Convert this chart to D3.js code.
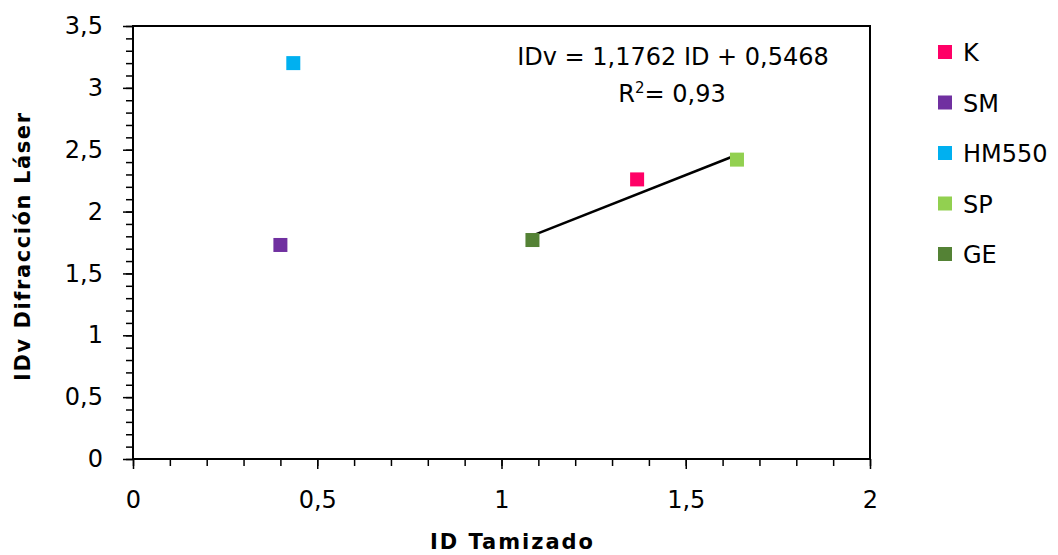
<!DOCTYPE html>
<html>
<head>
<meta charset="utf-8">
<script src="https://cdn.jsdelivr.net/npm/d3@7"></script>
<style>
  body { margin: 0; background: #fff; }
  svg text { font-family: "Comic Sans MS", "DejaVu Sans", sans-serif; fill: #000; }
</style>
</head>
<body>
<div id="chart"></div>
<script>
// series names, colours and values
var series = ["K", "SM", "HM550", "SP", "GE"];
var colors = ["#ff0066", "#7030a0", "#00b0f0", "#92d050", "#548235"];
var idTamizado = [1.368, 0.40, 0.435, 1.639, 1.084];
var idvLaser = [2.26, 1.73, 3.20, 2.42, 1.77];

// trend line (fitted on K, SP, GE)
var slope = 1.1762, intercept = 0.5468;
var trendX = [1.075, 1.643];

var xTicks = [0, 0.5, 1, 1.5, 2];
var yTicks = [0, 0.5, 1, 1.5, 2, 2.5, 3, 3.5];

var width = 1058, height = 555;
var fmt = function (d) { return String(d).replace(".", ","); };

var svg = d3.select("#chart").append("svg")
    .attr("width", width)
    .attr("height", height);

var x = d3.scaleLinear().domain([0, 2]).range([133, 870]);
var y = d3.scaleLinear().domain([0, 3.5]).range([459, 26]);

// minor ticks
svg.append("g")
    .attr("transform", "translate(0," + y(0) + ")")
    .call(d3.axisBottom(x).tickValues(d3.range(0, 21).map(function (i) { return i / 10; })).tickSize(7).tickFormat(""))
    .call(function (g) { g.select(".domain").remove(); })
    .selectAll("line").attr("stroke-width", 1.5);

svg.append("g")
    .attr("transform", "translate(" + x(0) + ",0)")
    .call(d3.axisLeft(y).tickValues(d3.range(0, 36).map(function (i) { return i / 10; })).tickSize(7).tickFormat(""))
    .call(function (g) { g.select(".domain").remove(); })
    .selectAll("line").attr("stroke-width", 1.5);

// major ticks + labels
var xAxis = svg.append("g")
    .attr("transform", "translate(0," + y(0) + ")")
    .call(d3.axisBottom(x).tickValues(xTicks).tickSize(10).tickPadding(22).tickFormat(fmt));
xAxis.select(".domain").remove();
xAxis.selectAll("line").attr("stroke-width", 1.5);
xAxis.selectAll("text").style("font-size", "24px");

var yAxis = svg.append("g")
    .attr("transform", "translate(" + x(0) + ",0)")
    .call(d3.axisLeft(y).tickValues(yTicks).tickSize(10).tickPadding(20).tickFormat(fmt));
yAxis.select(".domain").remove();
yAxis.selectAll("line").attr("stroke-width", 1.5);
yAxis.selectAll("text").style("font-size", "24px");

// plot frame
svg.append("rect")
    .attr("x", x(0))
    .attr("y", y(3.5))
    .attr("width", x(2) - x(0))
    .attr("height", y(0) - y(3.5))
    .attr("fill", "none")
    .attr("stroke", "#000")
    .attr("stroke-width", 2);

// trend line
svg.append("line")
    .attr("x1", x(trendX[0]))
    .attr("y1", y(slope * trendX[0] + intercept) + 2)
    .attr("x2", x(trendX[1]))
    .attr("y2", y(slope * trendX[1] + intercept) + 2)
    .attr("stroke", "#000")
    .attr("stroke-width", 2.5);

// points
var s = 14;
svg.selectAll("rect.pt")
    .data(series)
    .enter()
    .append("rect")
    .attr("class", "pt")
    .attr("x", function (d, i) { return x(idTamizado[i]) - s / 2; })
    .attr("y", function (d, i) { return y(idvLaser[i]) - s / 2; })
    .attr("width", s)
    .attr("height", s)
    .attr("fill", function (d, i) { return colors[i]; });

// equation
svg.append("text")
    .attr("x", 673).attr("y", 65)
    .attr("text-anchor", "middle")
    .style("font-size", "24px")
    .text("IDv = 1,1762 ID + 0,5468");

var r2 = svg.append("text")
    .attr("x", 672).attr("y", 102)
    .attr("text-anchor", "middle")
    .style("font-size", "24px");
r2.append("tspan").text("R");
r2.append("tspan").attr("dy", -9).style("font-size", "15px").text("2");
r2.append("tspan").attr("dy", 9).text("= 0,93");

// axis titles
svg.append("text")
    .attr("x", (x(0) + x(2)) / 2 + 10)
    .attr("y", 549)
    .attr("text-anchor", "middle")
    .attr("textLength", 163)
    .style("font-size", "21px")
    .style("font-weight", "bold")
    .text("ID Tamizado");

svg.append("text")
    .attr("transform", "translate(30,247) rotate(-90)")
    .attr("text-anchor", "middle")
    .attr("textLength", 268)
    .style("font-size", "21px")
    .style("font-weight", "bold")
    .text("IDv Difracción Láser");

// legend
var legend = svg.append("g").attr("class", "legend");
var rows = legend.selectAll("g")
    .data(series)
    .enter()
    .append("g")
    .attr("transform", function (d, i) { return "translate(938," + (52 + i * 50.5) + ")"; });

rows.append("rect")
    .attr("x", 0).attr("y", -7)
    .attr("width", 14).attr("height", 14)
    .attr("fill", function (d, i) { return colors[i]; });

rows.append("text")
    .attr("x", 25).attr("y", 9)
    .style("font-size", "24px")
    .text(function (d) { return d; });
</script>
</body>
</html>
